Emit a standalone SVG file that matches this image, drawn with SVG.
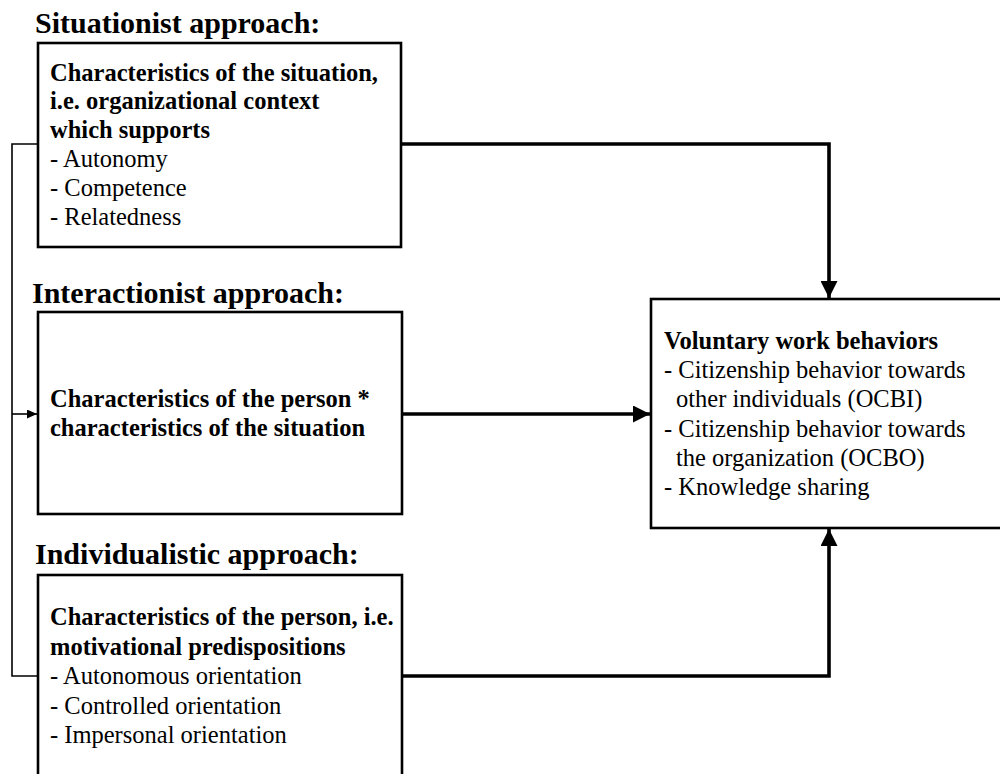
<svg xmlns="http://www.w3.org/2000/svg" width="1000" height="774" viewBox="0 0 1000 774">
<style>
text{font-family:"Liberation Serif","Times New Roman",serif;fill:#000}
.t{font-size:30px;font-weight:bold}
.b{font-size:24.5px}
.bd{font-weight:bold}
.box{fill:#fff;stroke:#000;stroke-width:2.6}
.con{fill:none;stroke:#000;stroke-width:3.6}
.fb{fill:none;stroke:#000;stroke-width:1.6}
</style>
<defs>
<marker id="big" viewBox="0 0 17 17" refX="17" refY="8.5" markerWidth="17" markerHeight="17" markerUnits="userSpaceOnUse" orient="auto">
<path d="M0,0 L17,8.5 L0,17 Z" fill="#000"/>
</marker>
<marker id="small" viewBox="0 0 10 9" refX="10" refY="4.5" markerWidth="10" markerHeight="9" markerUnits="userSpaceOnUse" orient="auto">
<path d="M0,0 L10,4.5 L0,9 Z" fill="#000"/>
</marker>
</defs>
<rect width="1000" height="774" fill="#fff"/>
<g id="connectors">
<path class="fb" d="M38,144 H12 V676 H38"/>
<path class="fb" d="M12,414 H37" marker-end="url(#small)"/>
<path class="con" d="M401,144 H829 V298" marker-end="url(#big)"/>
<path class="con" d="M402,414 H650" marker-end="url(#big)"/>
<path class="con" d="M402,676 H829 V529" marker-end="url(#big)"/>
</g>
<g id="situationist">
<text class="t" x="35" y="33">Situationist approach:</text>
<rect class="box" x="38" y="43" width="363" height="204"/>
<text class="b" x="50"><tspan class="bd" x="50" y="80.5">Characteristics of the situation,</tspan><tspan class="bd" x="50" y="109.3">i.e. organizational context</tspan><tspan class="bd" x="50" y="138.1">which supports</tspan><tspan x="50" y="166.9">- Autonomy</tspan><tspan x="50" y="195.7">- Competence</tspan><tspan x="50" y="224.5">- Relatedness</tspan></text>
</g>
<g id="interactionist">
<text class="t" x="32" y="303">Interactionist approach:</text>
<rect class="box" x="38" y="312" width="364" height="202"/>
<text class="b bd"><tspan x="50" y="407">Characteristics of the person *</tspan><tspan x="50" y="436">characteristics of the situation</tspan></text>
</g>
<g id="individualistic">
<text class="t" x="35" y="564">Individualistic approach:</text>
<rect class="box" x="38" y="575" width="364" height="222"/>
<text class="b"><tspan class="bd" x="50" y="625">Characteristics of the person, i.e.</tspan><tspan class="bd" x="50" y="654.5">motivational predispositions</tspan><tspan x="50" y="684">- Autonomous orientation</tspan><tspan x="50" y="713.5">- Controlled orientation</tspan><tspan x="50" y="743">- Impersonal orientation</tspan></text>
</g>
<g id="voluntary">
<rect class="box" x="651" y="299" width="352" height="229"/>
<text class="b"><tspan class="bd" x="664" y="349">Voluntary work behaviors</tspan><tspan x="664" y="378">- Citizenship behavior towards</tspan><tspan x="676" y="407">other individuals (OCBI)</tspan><tspan x="664" y="436.5">- Citizenship behavior towards</tspan><tspan x="676" y="465.5">the organization (OCBO)</tspan><tspan x="664" y="495">- Knowledge sharing</tspan></text>
</g>
</svg>
